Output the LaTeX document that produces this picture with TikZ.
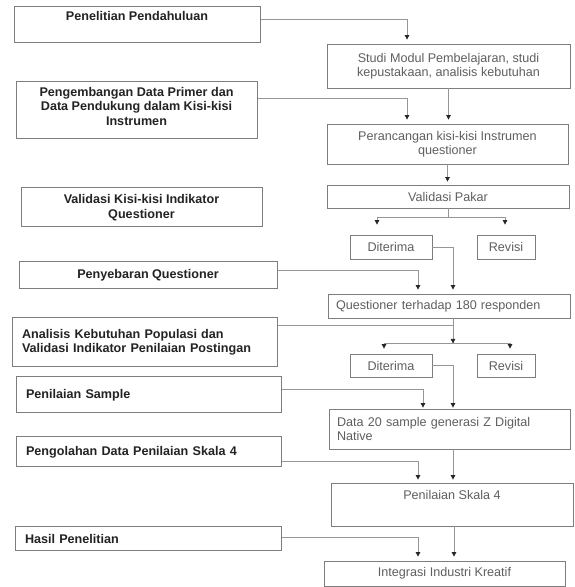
\documentclass[tikz,border=0pt]{standalone}
\usepackage{fontspec}
\setmainfont{Liberation Sans}
\usetikzlibrary{arrows.meta}
\definecolor{linecol}{RGB}{150,150,150}
\definecolor{boxcol}{RGB}{125,125,125}
\definecolor{ltext}{RGB}{35,35,35}
\definecolor{rtext}{RGB}{95,95,95}
\begin{document}
\begin{tikzpicture}[x=1pt,y=1pt,
  lbox/.style={draw=boxcol, line width=1pt, inner xsep=0pt, inner ysep=0pt, align=center,
    text=ltext, font=\fontsize{12.6}{14.5}\selectfont\bfseries},
  lboxl/.style={lbox, align=left, inner xsep=10pt},
  rbox/.style={draw=boxcol, line width=0.8pt, inner xsep=0pt, inner ysep=0pt, align=center,
    text=rtext, font=\fontsize{12.6}{14.5}\selectfont},
  rboxl/.style={rbox, align=left, inner xsep=8pt},
  ln/.style={draw=linecol, line width=0.8pt},
  arr/.style={ln, -{Triangle[width=4.5pt,length=4.5pt,color=black!85]}}
]
\useasboundingbox (0,0) rectangle (574,587);
\fill[white] (0,0) rectangle (574,587);
% left column
\node[lbox, minimum width=246pt, minimum height=36pt] (pp) at (137,562) {Penelitian Pendahuluan\\ \strut};
\node[lbox, minimum width=241pt, minimum height=57pt] (pe) at (136.5,476.5) {Pengembangan Data Primer dan\\Data Pendukung dalam Kisi-kisi\\Instrumen\\[-6pt]};
\node[lbox, minimum width=241pt, minimum height=39pt] (vk) at (141.5,379.5) {Validasi Kisi-kisi Indikator\\Questioner};
\node[lbox, minimum width=258pt, minimum height=27pt] (pen) at (148,311.5) {Penyebaran Questioner};
\node[lboxl, text width=245pt, minimum height=49pt] (ana) at (144.5,244.5) {Analisis Kebutuhan Populasi dan\\Validasi Indikator Penilaian Postingan\\[-6pt]};
\node[lboxl, text width=245pt, minimum height=36pt] (ps) at (148.5,192) {Penilaian Sample};
\node[lboxl, text width=245pt, minimum height=30pt] (po) at (148.5,135) {Pengolahan Data Penilaian Skala 4};
\node[lboxl, text width=246pt, minimum height=24pt] (hp) at (148,48) {Hasil Penelitian};
% right column
\node[rbox, minimum width=243pt, minimum height=44pt] (stu) at (448.5,521) {Studi Modul Pembelajaran, studi\\kepustakaan, analisis kebutuhan};
\node[rbox, minimum width=241pt, minimum height=40pt] (per) at (447.5,443) {Perancangan kisi-kisi Instrumen\\questioner};
\node[rbox, minimum width=242pt, minimum height=23pt] (vp) at (448,390.5) {Validasi Pakar};
\node[rbox, minimum width=82pt, minimum height=24pt] (d1) at (391,340) {Diterima};
\node[rbox, minimum width=58pt, minimum height=24pt] (r1) at (506,340) {Revisi};
\node[rboxl, text width=226pt, minimum height=24pt] (q) at (449,281) {Questioner terhadap 180 responden};
\node[rbox, minimum width=82pt, minimum height=23pt] (d2) at (391,221.5) {Diterima};
\node[rbox, minimum width=58pt, minimum height=23pt] (r2) at (506,221.5) {Revisi};
\node[rboxl, text width=225pt, minimum height=40pt] (dat) at (449.5,158) {Data 20 sample generasi Z Digital\\Native};
\node[rbox, minimum width=242pt, minimum height=43pt] (sk) at (452,82.5) {Penilaian Skala 4\\ \strut};
\node[rbox, minimum width=241pt, minimum height=25pt] (int) at (444.5,13.5) {Integrasi Industri Kreatif};
% connectors
\draw[arr] ([yshift=6pt]pp.east) -| ([xshift=-41.5pt,yshift=4pt]stu.north);
\draw[arr] ([yshift=12.5pt]pe.east) -| ([xshift=-40.5pt,yshift=4pt]per.north);
\draw[arr] (stu.south) -- ([yshift=4pt]stu.south |- per.north);
\draw[arr] (per.south) -- ([yshift=3pt]per.south |- vp.north);
\draw[ln] (vp.south) -- ++(0,-9) coordinate (j1);
\draw[arr] (j1) -| ([xshift=-14pt,yshift=10pt]d1.north);
\draw[arr] (j1) -| ([xshift=-1pt,yshift=10pt]r1.north);
\draw[arr] (d1.east) -| ([xshift=4pt,yshift=4pt]q.north);
\draw[arr] ([yshift=5.5pt]pen.east) -| ([xshift=-31pt,yshift=4pt]q.north);
\path ([xshift=4pt]q.south) ++(0,-25) coordinate (j2);
\draw[ln] ([xshift=4pt]q.south) -- (j2);
\draw[arr] ([yshift=17.5pt]ana.east) -| (j2);
\draw[arr] (j2) -| ([xshift=-7pt,yshift=5pt]d2.north);
\draw[arr] (j2) -| ([xshift=4pt,yshift=5pt]r2.north);
\draw[arr] (d2.east) -| ([xshift=3.5pt,yshift=1pt]dat.north);
\draw[arr] ([yshift=6pt]ps.east) -| ([xshift=-26.5pt,yshift=1pt]dat.north);
\draw[arr] ([xshift=3.5pt]dat.south) -- ([xshift=3.5pt,yshift=3pt]dat.south |- sk.north);
\draw[arr] ([yshift=-9pt]po.east) -| ([xshift=-34pt,yshift=3pt]sk.north);
\draw[arr] ([xshift=2pt]sk.south) -- ([xshift=2pt,yshift=4pt]sk.south |- int.north);
\draw[arr] ([yshift=2pt]hp.east) -| ([xshift=-26.5pt,yshift=4pt]int.north);
\end{tikzpicture}
\end{document}
